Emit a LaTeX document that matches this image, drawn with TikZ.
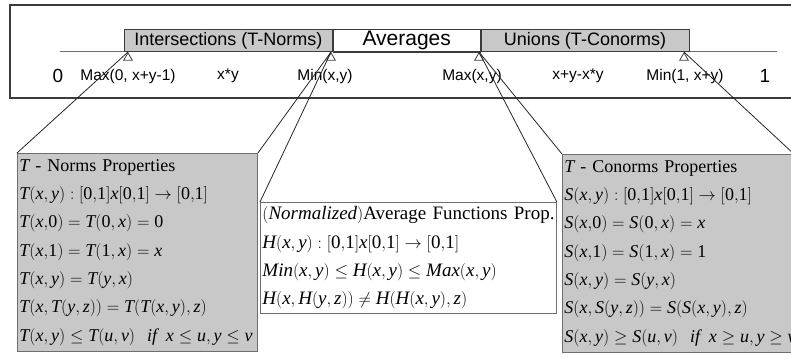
\documentclass[tikz,border=0pt]{standalone}
\usepackage{mathspec}
\setmainfont{Liberation Serif}
\setmathsfont(Digits,Latin){Liberation Serif}
\newfontfamily\arialfont{Liberation Sans}
\usetikzlibrary{positioning,shapes.geometric}

\definecolor{boxgray}{RGB}{200,200,200}
\definecolor{darkline}{RGB}{60,60,60}
\definecolor{axisgray}{RGB}{110,110,110}

\tikzset{
	frame/.style={draw=darkline, line width=1.6pt},
	axisline/.style={draw=axisgray, line width=1pt},
	band/.style={draw=darkline, fill=boxgray, line width=0.8pt, inner sep=0pt, minimum width=208pt, minimum height=22pt, font=\arialfont\fontsize{18}{18}\selectfont},
	marker/.style={draw=darkline, fill=white, line width=0.8pt, regular polygon, regular polygon sides=3, inner sep=0pt, minimum size=10pt},
	funclabel/.style={font=\arialfont\fontsize{15.5}{16}\selectfont, inner sep=1pt},
	endlabel/.style={font=\arialfont\fontsize{19}{19}\selectfont, inner sep=1pt},
	propbox/.style={draw=axisgray, line width=0.9pt, anchor=north west, align=left, inner xsep=2pt, inner ysep=0pt, font=\fontsize{18}{28.3}\selectfont},
	link/.style={draw=black!85, line width=0.8pt}
}

\begin{document}
\begin{tikzpicture}[x=1pt, y=-1pt]
	\useasboundingbox (0,0) rectangle (791,358);
	%outer frame
	\draw[frame] (10,5) rectangle (820,98);
	
	%axis
	\coordinate (axl) at (60,52);
	\coordinate (axr) at (777,52);
	\draw[axisline] (axl) -- (axr);
	
	%bands over the axis
	\node[band, anchor=south west] (inter) at (124,52) {Intersections (T-Norms)};
	\node[band, fill=white, minimum width=147pt, font=\arialfont\fontsize{21}{21}\selectfont, right=0pt of inter] (avg) {Averages};
	\node[band, right=0pt of avg] (union) {Unions (T-Conorms)};
	\draw[darkline, line width=1.4pt] (avg.south west) -- (avg.south east);
	
	%markers
	\foreach \n/\x in {t1/128, t2/331, t3/479, t4/684}{
		\node[marker, anchor=corner 1] (\n) at (\x,52) {};
	}
	
	%labels under the axis
	\node[endlabel] (zero) at (58,76) {0};
	\node[endlabel] (one) at (765,76) {1};
	\foreach \n/\x/\txt in {lmaxa/128/{Max(0, x+y-1)}, lprod/228/{x*y}, lmin/325/{Min(x,y)}, lmax/472/{Max(x,y)}, lsum/578/{x+y-x*y}, lminb/685/{Min(1, x+y)}}{
		\node[funclabel] (\n) at (\x,76) {\txt};
	}
	
	%property boxes
	\node[propbox, fill=boxgray, minimum height=198pt, text width=236pt] (tnorm) at (17,153) {%
		$T$ - Norms Properties\\
		$T(x,y):[0{,}1]x[0{,}1]\rightarrow[0{,}1]$\\
		$T(x{,}0)=T(0,x)=0$\\
		$T(x{,}1)=T(1,x)=x$\\
		$T(x,y)=T(y,x)$\\
		$T(x,T(y,z))=T(T(x,y),z)$\\
		\mbox{$T(x,y)\le T(u,v)\ \ if\ \,x\le u,y\le v$}};
	\node[propbox, fill=white, minimum height=111pt, text width=292pt, font=\fontsize{19}{28.3}\selectfont] (avgbox) at (260,202) {%
		\mbox{$(Normalized)$Average Functions Prop.}\\
		$H(x,y):[0{,}1]x[0{,}1]\rightarrow[0{,}1]$\\
		$Min(x,y)\le H(x,y)\le Max(x,y)$\\
		$H(x,H(y,z))\ne H(H(x,y),z)$};
	\node[propbox, fill=boxgray, minimum height=198pt, text width=227pt] (conorm) at (562,154) {%
		$T$ - Conorms Properties\\
		$S(x,y):[0{,}1]x[0{,}1]\rightarrow[0{,}1]$\\
		$S(x{,}0)=S(0,x)=x$\\
		$S(x{,}1)=S(1,x)=1$\\
		$S(x,y)=S(y,x)$\\
		$S(x,S(y,z))=S(S(x,y),z)$\\
		\mbox{$S(x,y)\ge S(u,v)\ \ if\ \,x\ge u,y\ge v$}};
	
	%connectors
	\draw[link] (t1.corner 1) -- (tnorm.north west);
	\draw[link] (t2.corner 1) -- (tnorm.north east);
	\draw[link] (t2.corner 1) -- (avgbox.north west);
	\draw[link] (t3.corner 1) -- (avgbox.north east);
	\draw[link] (t3.corner 1) -- (conorm.north west);
	\draw[link] (t4.corner 1) -- (conorm.north east);
\end{tikzpicture}
\end{document}
